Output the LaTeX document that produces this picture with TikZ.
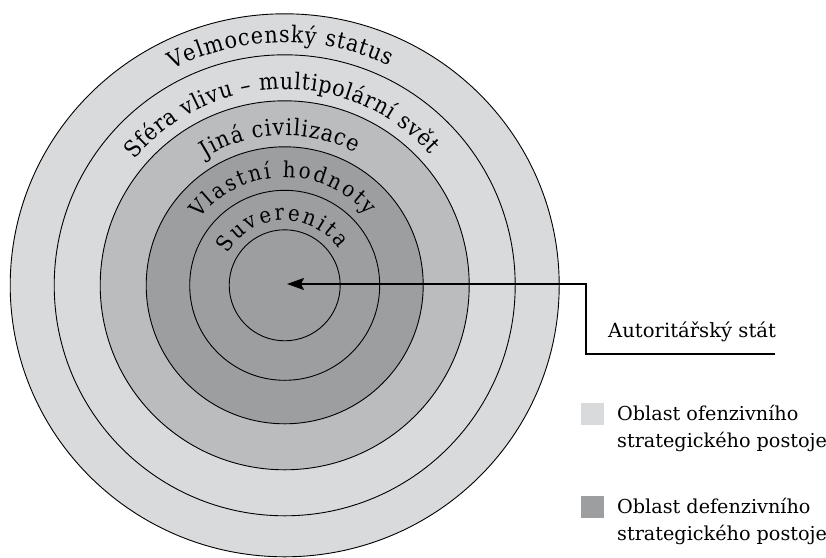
\documentclass[tikz,border=0pt]{standalone}
\usepackage{fontspec}
\setmainfont{DejaVu Serif}
\newfontfamily\curvefam[FakeStretch=0.9]{DejaVu Serif}
\usetikzlibrary{decorations.text, calc, arrows.meta}
\definecolor{ringlight}{HTML}{D9DADC}
\definecolor{ringmid}{HTML}{BBBCBE}
\definecolor{ringdark}{HTML}{9D9EA0}
\newcommand\curvefont{\curvefam\fontsize{23}{26}\selectfont}
\newcommand\innerfont{\curvefam\fontsize{22}{25}\selectfont}
\newcommand\labfont{\fontsize{19.6}{23}\selectfont}
\newcommand\legfont{\fontsize{19.2}{22}\selectfont}
\begin{document}
\begin{tikzpicture}[x=1pt,y=1pt,
  ring/.style={draw=black, line width=0.9pt},
  curvetext/.style={decorate, decoration={text along path, text align={fit to path}, text={#1}}},
  arrowline/.style={line width=2pt, line join=miter, -{Stealth[length=17pt, width=12pt, inset=3pt]}},
  labtext/.style={inner sep=0pt, font=\labfont},
  legtext/.style={inner sep=0pt, font=\legfont},
  legsq/.style={draw=none, inner sep=0pt, minimum width=23pt, minimum height=22pt}]
\useasboundingbox (0,0) rectangle (826,-557);
\coordinate (C) at (284.7,-285.3);
% rings
\path[ring, fill=ringlight] (C) ellipse [x radius=274.5, y radius=271.5];
\path[ring, fill=ringlight] (C) circle [radius=230.5];
\path[ring, fill=ringmid] (C) circle [radius=184.5];
\path[ring, fill=ringdark] (C) circle [radius=138.5];
\path[ring, fill=ringdark] (C) circle [radius=95];
\path[ring, fill=ringdark] (C) circle [radius=55.5];
% curved labels
\path[curvetext={|\curvefont|Velmocenský status}] ($(C)+(117.5:243)$) arc [start angle=117.5, end angle=64.5, radius=243];
\path[curvetext={|\curvefont|Sféra vlivu – multipolární svět}] ($(C)+(140:196)$) arc [start angle=140, end angle=42, radius=196];
\path[curvetext={|\curvefont|Jiná civilizace}] ($(C)+(122:150)$) arc [start angle=122, end angle=62, radius=150];
\path[curvetext={|\innerfont|Vlastní hodnoty}] ($(C)+(142:108)$) arc [start angle=142, end angle=40, radius=108];
\path[curvetext={|\innerfont|Suverenita}] ($(C)+(151:65)$) arc [start angle=151, end angle=34, radius=65];
% arrow and label
\coordinate (tip) at (287,-284);
\node[labtext, anchor=base west] (auth) at (608,-337) {Autoritářský stát};
\coordinate (lend) at (775,-354);
\coordinate (corner) at (586,-354);
\draw[arrowline] (lend) -- (corner) |- (tip);
% legend
\node[legsq, fill=ringlight] (sq1) at (592.5,-414) {};
\node[legtext, anchor=base west] (l1a) at (617,-420) {Oblast ofenzivního};
\node[legtext, anchor=base west] (l1b) at (617,-447) {strategického postoje};
\node[legsq, fill=ringdark] (sq2) at (592.5,-507) {};
\node[legtext, anchor=base west] (l2a) at (617,-513) {Oblast defenzivního};
\node[legtext, anchor=base west] (l2b) at (617,-540) {strategického postoje};
\end{tikzpicture}
\end{document}
